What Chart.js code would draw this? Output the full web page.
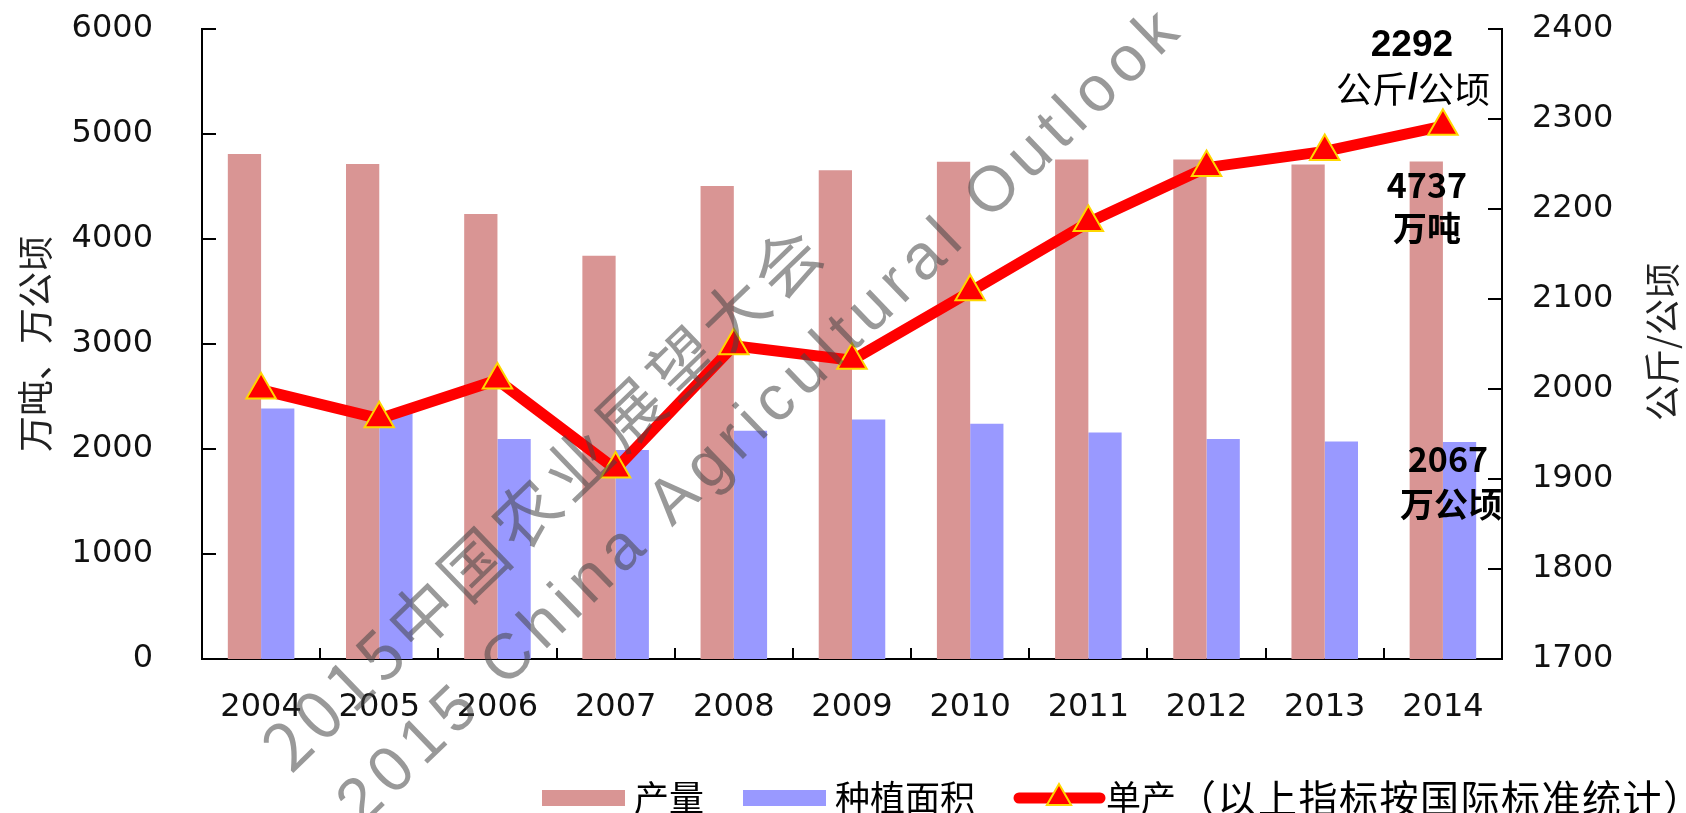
<!DOCTYPE html>
<html>
<head>
<meta charset="utf-8">
<script src="https://cdn.jsdelivr.net/npm/chart.js@4.4.0/dist/chart.umd.min.js"></script>
<style>
    html, body { margin: 0; padding: 0; background: #fff; }
    #wrap { width: 1686px; height: 813px; position: relative; }
</style>
</head>
<body>
<div id="wrap"><canvas id="chart"></canvas></div>
<script>
// 年份
const years = ['2004', '2005', '2006', '2007', '2008', '2009', '2010', '2011', '2012', '2013', '2014'];
// 产量（万吨）
const output = [4810, 4715, 4238, 3840, 4505, 4655, 4735, 4758, 4758, 4710, 4737];
// 种植面积（万公顷）
const area = [2386, 2355, 2095, 1990, 2174, 2280, 2240, 2156, 2095, 2072, 2067];
// 单产（公斤/公顷）
const yieldPerHa = [1999, 1967, 2010, 1911, 2048, 2032, 2108, 2185, 2246, 2264, 2292];

// 坐标轴范围
const leftAxis = { min: 0, max: 6000, step: 1000 };
const rightAxis = { min: 1700, max: 2400, step: 100 };

const legendNote = '（以上指标按国际标准统计）';
const watermarkCn = '2015中国农业展望大会';
const watermarkEn = '2015 China Agricultural Outlook';

const tickFont = { family: '"DejaVu Sans"', size: 32 };
const cjk = '"Noto Sans CJK SC"';

// 刻度线向内画
const innerTicks = {
    id: 'innerTicks',
    afterDatasetsDraw(chart) {
        const { ctx, chartArea: a, scales: { x, y, y1 } } = chart;
        ctx.save();
        ctx.strokeStyle = '#000';
        ctx.lineWidth = 2;
        ctx.beginPath();
        y.ticks.forEach((t, i) => {
            const py = Math.round(y.getPixelForTick(i));
            ctx.moveTo(a.left, py); ctx.lineTo(a.left + 14, py);
        });
        y1.ticks.forEach((t, i) => {
            const py = Math.round(y1.getPixelForTick(i));
            ctx.moveTo(a.right - 14, py); ctx.lineTo(a.right, py);
        });
        for (let i = 1; i < years.length; i++) {
            const px = Math.round((x.getPixelForTick(i - 1) + x.getPixelForTick(i)) / 2);
            ctx.moveTo(px, a.bottom); ctx.lineTo(px, a.bottom - 11);
        }
        ctx.stroke();
        ctx.restore();
    }
};

// 最后一年的数值标注
const lastNotes = {
    id: 'lastNotes',
    afterDatasetsDraw(chart) {
        const { ctx, scales: { x, y, y1 } } = chart;
        const last = years.length - 1;
        const px = x.getPixelForValue(last);
        const pY = y1.getPixelForValue(yieldPerHa[last]);
        const aY = y.getPixelForValue(area[last]);
        ctx.save();
        ctx.fillStyle = '#000';
        ctx.textAlign = 'center';
        ctx.textBaseline = 'middle';

        ctx.font = 'bold 37px "Liberation Sans"';
        ctx.fillText(String(yieldPerHa[last]), px - 31, pY - 80);

        // 公斤/公顷，斜杠加粗
        const a1 = '公斤', a2 = '/', a3 = '公顷';
        ctx.font = '36px ' + cjk;
        const w1 = ctx.measureText(a1).width, w3 = ctx.measureText(a3).width;
        ctx.font = 'bold 36px "Liberation Sans"';
        const w2 = ctx.measureText(a2).width;
        let sx = px - 30 - (w1 + w2 + w3) / 2;
        ctx.textAlign = 'left';
        ctx.font = '36px ' + cjk;
        ctx.fillText(a1, sx, pY - 37);
        ctx.font = 'bold 36px "Liberation Sans"';
        ctx.fillText(a2, sx + w1, pY - 37);
        ctx.font = '36px ' + cjk;
        ctx.fillText(a3, sx + w1 + w2, pY - 37);
        ctx.textAlign = 'center';

        ctx.font = 'bold 34px ' + cjk;
        ctx.fillText(String(output[last]), px - 16, pY + 59);
        ctx.fillText('万吨', px - 16, pY + 102);
        ctx.fillText(String(area[last]), px + 5, aY + 17);
        ctx.fillText('万公顷', px + 8, aY + 62);
        ctx.restore();
    }
};

// 右轴标题（自下而上）
const rightTitle = {
    id: 'rightTitle',
    afterDraw(chart) {
        const { ctx, chartArea: a } = chart;
        ctx.save();
        ctx.translate(a.right + 160, (a.top + a.bottom) / 2 - 2);
        ctx.rotate(-Math.PI / 2);
        ctx.font = '36px ' + cjk;
        ctx.fillStyle = '#222';
        ctx.textAlign = 'center';
        ctx.textBaseline = 'middle';
        ctx.fillText('公斤/公顷', 0, 0);
        ctx.restore();
    }
};

// 底部图例
const legendRow = {
    id: 'legendRow',
    afterDraw(chart) {
        const ctx = chart.ctx;
        const cy = 798;
        let x = 542;
        ctx.save();
        ctx.font = '35px ' + cjk;
        ctx.textBaseline = 'middle';
        ctx.textAlign = 'left';
        chart.data.datasets.forEach(d => {
            if (d.type === 'line') {
                ctx.strokeStyle = d.borderColor;
                ctx.lineWidth = 11;
                ctx.lineCap = 'round';
                ctx.beginPath();
                ctx.moveTo(x + 5, cy); ctx.lineTo(x + 86, cy);
                ctx.stroke();
                ctx.fillStyle = d.pointBackgroundColor;
                ctx.strokeStyle = d.pointBorderColor;
                ctx.lineWidth = 2;
                Chart.helpers.drawPoint(ctx, { pointStyle: 'triangle', radius: 14, rotation: 0, borderWidth: 2 }, x + 45, cy);
            } else {
                ctx.fillStyle = d.backgroundColor;
                ctx.fillRect(x, cy - 8, 83, 16);
            }
            x += 83 + 9;
            ctx.fillStyle = '#000';
            ctx.fillText(d.label, x, cy);
            x += ctx.measureText(d.label).width + 39;
        });
        ctx.font = '39px ' + cjk;
        ctx.letterSpacing = '1.5px';
        ctx.fillText(legendNote, x - 39 + 1, cy);
        ctx.restore();
    }
};

// 水印
function drawMark(ctx, text, cx, cy, font, len) {
    ctx.save();
    ctx.font = font;
    const w = ctx.measureText(text).width;
    ctx.letterSpacing = ((len - w) / (text.length - 1)).toFixed(2) + 'px';
    ctx.translate(cx, cy);
    ctx.rotate(-44 * Math.PI / 180);
    ctx.fillStyle = 'rgba(70, 70, 70, 0.55)';
    ctx.textAlign = 'center';
    ctx.textBaseline = 'middle';
    ctx.fillText(text, 0, 0);
    ctx.restore();
}
const watermark = {
    id: 'watermark',
    afterDraw(chart) {
        drawMark(chart.ctx, watermarkCn, 544, 496, '66px ' + cjk, 745);
        drawMark(chart.ctx, watermarkEn, 762, 416, '64px "Liberation Sans"', 1140);
    }
};

const ctx = document.getElementById('chart').getContext('2d');
new Chart(ctx, {
    type: 'bar',
    data: {
        labels: years,
        datasets: [{
            label: '产量',
            data: output,
            backgroundColor: '#d99594',
            yAxisID: 'y',
            barPercentage: 1,
            categoryPercentage: 0.563
        },
        {
            label: '种植面积',
            data: area,
            backgroundColor: '#9999ff',
            yAxisID: 'y',
            barPercentage: 1,
            categoryPercentage: 0.563
        },
        {
            type: 'line',
            label: '单产',
            data: yieldPerHa,
            yAxisID: 'y1',
            borderColor: '#ff0000',
            borderWidth: 11,
            borderJoinStyle: 'round',
            tension: 0,
            pointStyle: 'triangle',
            pointRadius: 17,
            pointBackgroundColor: '#ff0000',
            pointBorderColor: '#ffd700',
            pointBorderWidth: 2,
            order: -1
        }]
    },
    options: {
        responsive: true,
        maintainAspectRatio: false,
        animation: false,
        layout: { padding: { top: 29, left: 0, right: 0, bottom: 0 } },
        plugins: {
            legend: { display: false },
            tooltip: { enabled: false }
        },
        scales: {
            x: {
                grid: { display: false, tickLength: 8 },
                border: { display: true, color: '#000', width: 2 },
                ticks: { font: tickFont, color: '#111', padding: 21, maxRotation: 0, autoSkip: false },
                afterFit: s => { s.height = 154; }
            },
            y: {
                position: 'left',
                min: leftAxis.min,
                max: leftAxis.max,
                grid: { display: false, tickLength: 45 },
                border: { display: true, color: '#000', width: 2 },
                ticks: { stepSize: leftAxis.step, font: tickFont, color: '#111', padding: 4, callback: v => String(v) },
                title: { display: true, text: '万吨、万公顷', font: { family: cjk, size: 36 }, color: '#222', padding: { top: 14, bottom: 0 } },
                afterFit: s => { s.width = 202; }
            },
            y1: {
                position: 'right',
                min: rightAxis.min,
                max: rightAxis.max,
                grid: { display: false, tickLength: 26 },
                border: { display: true, color: '#000', width: 2 },
                ticks: { stepSize: rightAxis.step, font: tickFont, color: '#111', padding: 4, callback: v => String(v) },
                afterFit: s => { s.width = 184; }
            }
        }
    },
    plugins: [innerTicks, lastNotes, rightTitle, legendRow, watermark]
});
</script>
</body>
</html>
